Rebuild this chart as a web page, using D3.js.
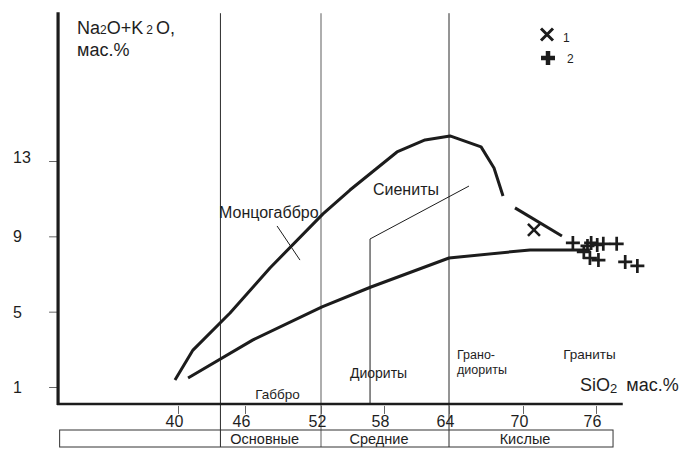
<!DOCTYPE html>
<html><head><meta charset="utf-8">
<script src="https://cdn.jsdelivr.net/npm/d3@7"></script>
<style>
body{margin:0;background:#fff}
text{font-family:"Liberation Sans",Arial,sans-serif;fill:#1e1e1e}
</style>
</head><body>
<svg id="c" width="686" height="449"></svg>
<script>
// ---------- data ----------
const xTicks = [40, 46, 52, 58, 64, 70, 76];
const yTicks = [1, 5, 9, 13];
// alkaline / subalkaline boundaries (SiO2, Na2O+K2O)
const upperCurve = [[39.73,1.37],[41.34,2.96],[44.66,4.93],[47.97,7.32],[52.19,10.19],[54.76,11.46],
  [59.2,13.48],[61.79,14.12],[64.08,14.33],[66.6,13.75],[67.65,12.63],[68.38,11.14]];
const upperTail = [[69.35,10.51],[73.2,9.02]];
const lowerCurve = [[40.9,1.48],[46.63,3.5],[52.1,5.25],[56.76,6.31],[64,7.85],[70.58,8.28],[75.5,8.28]];
const dioriteBoundary = [[56.67,0.1],[56.67,8.86],[65.62,11.67]];
const monzoPointer = [[48.53,9.55],[50.34,7.74]];
const silicaBounds = [43.8, 52, 64];
const groupNames = ["", "Основные", "Средние", "Кислые"];
const groupFrom = [29.4, 43.8, 52, 64];
const groupTo = [43.8, 52, 64, 77.4];
const samples1 = [[70.9, 9.34]];
const samples2 = [[74.1,8.65],[75.3,8.49],[75.6,8.65],[76.1,8.54],[76.6,8.6],[77.7,8.6],
  [75.0,8.17],[75.5,7.85],[76.2,7.74],[78.4,7.64],[79.4,7.43]];
const fieldNames = ["Монцогаббро", "Сиениты", "Габбро", "Диориты", "Грано-", "диориты", "Граниты"];
const fieldX = [43.67, 56.95, 46.8, 54.76, 64.65, 64.65, 73.3];
const fieldY = [10.24, 11.46, 0.58, 1.74, 2.72, 1.92, 2.7];

// ---------- scales ----------
const svg = d3.select("#c");
const x = d3.scaleLinear().domain(xTicks).range([178, 245, 321, 384, 449, 523, 596]);
const y = d3.scaleLinear().domain([1, 13]).range([387, 161]);
const xMin = 29.26, xMax = 78.2, yMin = 0.1, yMax = 20.9;
const boxTop = 430, boxBot = 447;

const ink = "#1c1c1c";

// vertical silica boundaries
svg.append("g").selectAll("line").data(silicaBounds).join("line")
  .attr("x1", d => x(d)).attr("x2", d => x(d))
  .attr("y1", y(yMax) + 1).attr("y2", boxBot)
  .attr("stroke", d => d === 52 ? "#8c8c8c" : "#2a2a2a")
  .attr("stroke-width", d => d === 52 ? 1.4 : 1);

// group box
const gb = svg.append("g");
gb.append("rect").attr("x", x(groupFrom[0])).attr("y", boxTop)
  .attr("width", x(groupTo[3]) - x(groupFrom[0])).attr("height", boxBot - boxTop)
  .attr("fill", "none").attr("stroke", "#333").attr("stroke-width", 1);
gb.selectAll("text").data(groupNames).join("text")
  .attr("x", (d, i) => (x(groupFrom[i]) + x(groupTo[i])) / 2 - 6)
  .attr("y", 443.5).attr("text-anchor", "middle").attr("font-size", 14.5).text(d => d);

// axes
const xAxis = svg.append("g").attr("transform", `translate(0,${y(yMin)})`)
  .call(d3.axisBottom(x).tickValues(xTicks).tickSize(10).tickFormat(d3.format("d")));
xAxis.select(".domain").remove();
xAxis.selectAll(".tick line").attr("stroke", "#666").attr("y1", 2);
xAxis.selectAll(".tick text").attr("font-size", 16).attr("y", 12).attr("dy", "0.71em")
  .attr("dx", -4).attr("font-family", "Liberation Sans, Arial, sans-serif").attr("fill", ink);

const yAxis = svg.append("g").attr("transform", `translate(${x(xMin)},0)`)
  .call(d3.axisLeft(y).tickValues(yTicks).tickSize(9));
yAxis.select(".domain").remove();
yAxis.selectAll(".tick line").attr("stroke", "#666");
yAxis.selectAll(".tick text").attr("font-size", 16).attr("text-anchor", "start")
  .attr("x", -45).attr("dy", d => d === 13 ? "0.1em" : "0.35em")
  .attr("font-family", "Liberation Sans, Arial, sans-serif").attr("fill", ink);

svg.append("line").attr("x1", x(xMin)).attr("x2", x(xMin)).attr("y1", y(yMax)).attr("y2", y(yMin) + 1)
  .attr("stroke", ink).attr("stroke-width", 3.2);
svg.append("line").attr("x1", x(xMin) - 1).attr("x2", x(xMax)).attr("y1", y(yMin)).attr("y2", y(yMin))
  .attr("stroke", ink).attr("stroke-width", 2.6);

// curves
const line = d3.line().x(d => x(d[0])).y(d => y(d[1]));
[upperCurve, upperTail, lowerCurve].forEach(c =>
  svg.append("path").attr("d", line(c)).attr("fill", "none").attr("stroke", ink)
    .attr("stroke-width", 3).attr("stroke-linejoin", "round"));
[dioriteBoundary, monzoPointer].forEach(c =>
  svg.append("path").attr("d", line(c)).attr("fill", "none").attr("stroke", ink).attr("stroke-width", 1));

// field labels
svg.append("g").selectAll("text").data(fieldNames).join("text")
  .attr("x", (d, i) => x(fieldX[i])).attr("y", (d, i) => y(fieldY[i]))
  .attr("dy", "0.32em")
  .attr("font-size", (d, i) => i < 2 ? 16 : (i === 3 ? 14 : (i === 4 || i === 5 ? 12.5 : 13.5)))
  .text(d => d);

// samples
const timesPath = s => `M${-s},${-s}L${s},${s}M${-s},${s}L${s},${-s}`;
const plusPath = s => `M${-s},0H${s}M0,${-s}V${s}`;
svg.append("g").selectAll("path").data(samples1).join("path")
  .attr("transform", d => `translate(${x(d[0])},${y(d[1])})`)
  .attr("d", timesPath(6)).attr("stroke", ink).attr("stroke-width", 2.6).attr("fill", "none");
svg.append("g").selectAll("path").data(samples2).join("path")
  .attr("transform", d => `translate(${x(d[0])},${y(d[1])})`)
  .attr("d", plusPath(7)).attr("stroke", ink).attr("stroke-width", 2.7).attr("fill", "none");

// legend
svg.append("path").attr("transform", "translate(547,34.5)").attr("d", timesPath(6))
  .attr("stroke", ink).attr("stroke-width", 3).attr("fill", "none");
svg.append("text").attr("x", 563).attr("y", 42).attr("font-size", 12).text("1");
svg.append("path").attr("transform", "translate(548,58)").attr("d", plusPath(7))
  .attr("stroke", ink).attr("stroke-width", 4.5).attr("fill", "none");
svg.append("text").attr("x", 567).attr("y", 63).attr("font-size", 12).text("2");

// axis titles
const yt = svg.append("text").attr("x", 77).attr("y", 34).attr("font-size", 18);
yt.append("tspan").text("Na");
yt.append("tspan").attr("font-size", 12).text("2");
yt.append("tspan").text("O+K");
yt.append("tspan").attr("font-size", 12).attr("dx", 3).text("2");
yt.append("tspan").attr("dx", 3).text("O,");
svg.append("text").attr("x", 77).attr("y", 56).attr("font-size", 18).text("мас.%");

const xt = svg.append("text").attr("x", 580).attr("y", 391).attr("font-size", 18);
xt.append("tspan").text("SiO");
xt.append("tspan").attr("font-size", 13).attr("dy", 2).text("2");
xt.append("tspan").attr("dy", -2).attr("dx", 9).text("мас.%");
</script>
</body></html>
